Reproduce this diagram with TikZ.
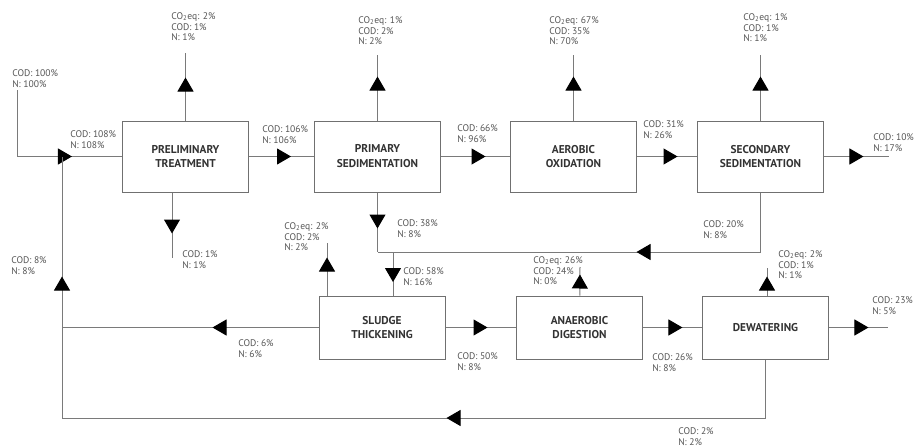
\documentclass[tikz,border=0pt]{standalone}
\usepackage{fontspec}
\setmainfont{PT Sans}
\usetikzlibrary{arrows.meta,decorations.markings}
\definecolor{linec}{HTML}{7A7A7A}
\definecolor{boxc}{HTML}{707070}
\definecolor{labc}{HTML}{555555}
\definecolor{boxt}{HTML}{333333}
\newcommand{\cotwo}{CO\textsubscript{2}eq}
\begin{document}
\begin{tikzpicture}[x=0.75pt,y=-0.75pt,
  box/.style={draw=boxc, line width=0.75pt, fill=white, minimum width=94.5pt,
    font=\fontsize{8.5}{11.2}\selectfont\bfseries, text=boxt, align=center, inner sep=0pt},
  boxtop/.style={minimum height=53.25pt},
  boxbot/.style={minimum height=47.25pt},
  lab/.style={anchor=north west, inner sep=0pt, align=left,
    font=\fontsize{7.2}{8.2}\selectfont, text=labc},
  conn/.style={draw=linec, line width=0.75pt},
  tipshape/.tip={Triangle[length=10.5pt,width=12pt,color=black]},
  tip/.style={postaction={decorate}, decoration={markings,
    mark=at position #1 with {\arrow{tipshape}}}},
  tips/.style 2 args={postaction={decorate}, decoration={markings,
    mark=at position #1 with {\arrow{tipshape}},
    mark=at position #2 with {\arrow{tipshape}}}}
]
\fill[white] (0,0) rectangle (914,446);
\useasboundingbox (0,0) rectangle (914,446);

% boxes
\node[box,boxtop] (pre) at (185.5,156.5) {PRELIMINARY\\TREATMENT};
\node[box,boxtop] (pri) at (377.5,156.5) {PRIMARY\\SEDIMENTATION};
\node[box,boxtop] (aer) at (573.5,156.5) {AEROBIC\\OXIDATION};
\node[box,boxtop] (sec) at (760.5,156.5) {SECONDARY\\SEDIMENTATION};
\node[box,boxbot] (slu) at (382,327.5) {SLUDGE\\THICKENING};
\node[box,boxbot] (ana) at (579.5,327.5) {ANAEROBIC\\DIGESTION};
\node[box,boxbot] (dew) at (765.5,327.5) {DEWATERING};

% free ends and junctions
\coordinate (in) at (17,90);
\coordinate (preUp) at (185.5,53);
\coordinate (priUp) at (377.5,55);
\coordinate (aerUp) at (573.5,55);
\coordinate (secUp) at (760.5,55);
\coordinate (preDn) at (172,258);
\coordinate (secOut) at (889,156.5);
\coordinate (jA) at (377.5,252);
\coordinate (jB) at (393,252);
\coordinate (sluUp) at (327,243);
\coordinate (jL) at (62,327.5);
\coordinate (jBot) at (62,418);
\coordinate (jTop) at (62,156.5);
\coordinate (anaUp) at (580,267);
\coordinate (dewUp) at (767,268);
\coordinate (dewOut) at (888,327.5);

% connectors
\draw[conn,tip=91.1pt] (in) |- (pre.west);
\draw[conn,tip=31.5pt] (pre) -- (pri);
\draw[conn,tip=33.4pt] (pri) -- (aer);
\draw[conn,tip=30.4pt] (aer) -- (sec);
\draw[conn,tip=29.6pt] (sec) -- (secOut);
\draw[conn,tip=32.25pt] (pre) -- (preUp);
\draw[conn,tip=33pt] (pri) -- (priUp);
\draw[conn,tip=33pt] (aer) -- (aerUp);
\draw[conn,tip=33pt] (sec) -- (secUp);
\draw[conn,tip=30.75pt] (preDn |- pre.south) -- (preDn);
\draw[conn,tip=27pt] (pri) -- (jA);
\draw[conn,tip=137.6pt] (sec) |- (jA);
\draw[conn,tip=22.5pt] (jB) -- (jB |- slu.north);
\draw[conn,tip=28.5pt] (sluUp |- slu.north) -- (sluUp);
\draw[conn,tip=79.5pt] (slu) -- (jL);
\draw[conn,tips={283.1pt}{677.6pt}] (dew) |- (jBot) -- (jTop);
\draw[conn,tip=31.5pt] (slu) -- (ana);
\draw[conn,tip=15.75pt] (ana) -- (anaUp);
\draw[conn,tip=29.6pt] (ana) -- (dew);
\draw[conn,tip=14.25pt] (dewUp |- dew.north) -- (dewUp);
\draw[conn,tip=29.6pt] (dew) -- (dewOut);

% labels
\node[lab] (lIn) at (12,69) {COD: 100\%\\N: 100\%};
\node[lab] (lPreUp) at (171,12) {\cotwo: 2\%\\COD: 1\%\\N: 1\%};
\node[lab] (l108) at (70,130) {COD: 108\%\\N: 108\%};
\node[lab] (l106) at (262,125) {COD: 106\%\\N: 106\%};
\node[lab] (lPriUp) at (358,16) {\cotwo: 1\%\\COD: 2\%\\N: 2\%};
\node[lab] (l66) at (457,124) {COD: 66\%\\N: 96\%};
\node[lab] (lAerUp) at (549,16) {\cotwo: 67\%\\COD: 35\%\\N: 70\%};
\node[lab] (l31) at (643,120) {COD: 31\%\\N: 26\%};
\node[lab] (lSecUp) at (743,13) {\cotwo: 1\%\\COD: 1\%\\N: 1\%};
\node[lab] (l10) at (873,133) {COD: 10\%\\N: 17\%};
\node[lab] (lPreDn) at (182,250) {COD: 1\%\\N: 1\%};
\node[lab] (l38) at (397,219) {COD: 38\%\\N: 8\%};
\node[lab] (l20) at (703,220) {COD: 20\%\\N: 8\%};
\node[lab] (l8) at (11,256) {COD: 8\%\\N: 8\%};
\node[lab] (l6) at (238,339) {COD: 6\%\\N: 6\%};
\node[lab] (lSluUp) at (284,222) {\cotwo: 2\%\\COD: 2\%\\N: 2\%};
\node[lab] (l58) at (403,267) {COD: 58\%\\N: 16\%};
\node[lab] (l50) at (457,352) {COD: 50\%\\N: 8\%};
\node[lab] (lAnaUp) at (533,256) {\cotwo: 26\%\\COD: 24\%\\N: 0\%};
\node[lab] (l26) at (652,353) {COD: 26\%\\N: 8\%};
\node[lab] (lDewUp) at (778,250) {\cotwo: 2\%\\COD: 1\%\\N: 1\%};
\node[lab] (l23) at (872,296) {COD: 23\%\\N: 5\%};
\node[lab] (l2) at (678,427) {COD: 2\%\\N: 2\%};
\end{tikzpicture}
\end{document}
